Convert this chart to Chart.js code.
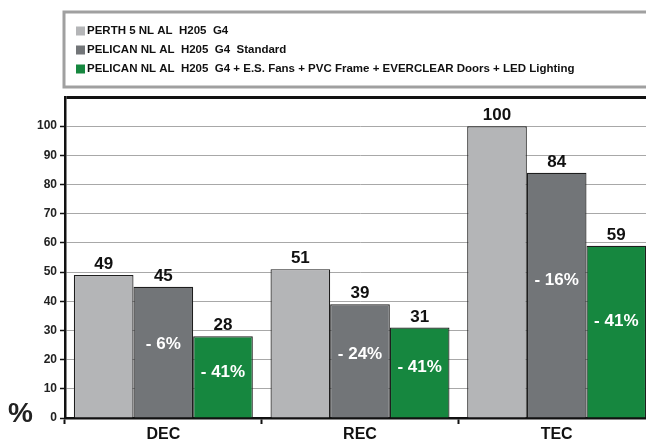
<!DOCTYPE html>
<html>
<head>
<meta charset="utf-8">
<script src="https://cdn.jsdelivr.net/npm/chart.js@4/dist/chart.umd.min.js"></script>
<style>
    html, body { margin: 0; padding: 0; background: #ffffff; overflow: hidden; }
    #wrap { width: 660px; height: 441px; position: relative; }
</style>
</head>
<body>
<div id="wrap"><canvas id="energyChart"></canvas></div>
<script>
// Data
const categories = ['DEC', 'REC', 'TEC'];
const seriesNames = [
    'PERTH 5 NL AL  H205  G4',
    'PELICAN NL AL  H205  G4  Standard',
    'PELICAN NL AL  H205  G4 + E.S. Fans + PVC Frame + EVERCLEAR Doors + LED Lighting'
];
const perthValues = [49, 51, 100];
const pelicanStdValues = [45, 39, 84];
const pelicanPlusValues = [28, 31, 59];
const stdChangeLabels = ['- 6%', '- 24%', '- 16%'];
const plusChangeLabels = ['- 41%', '- 41%', '- 41%'];
const yMax = 110;
const yStep = 10;
const yUnit = '%';

const colors = ['#b4b5b7', '#727578', '#16873f'];
const FONT = "'Liberation Sans', Arial, sans-serif";

// Value labels above bars + change labels inside bars
const barLabels = {
    id: 'barLabels',
    afterDatasetsDraw(chart) {
        const ctx = chart.ctx;
        const yScale = chart.scales.y;
        const changes = [null, stdChangeLabels, plusChangeLabels];
        ctx.save();
        ctx.textAlign = 'center';
        ctx.font = 'bold 17px ' + FONT;
        chart.data.datasets.forEach((ds, i) => {
            chart.getDatasetMeta(i).data.forEach((bar, j) => {
                ctx.fillStyle = '#111111';
                ctx.textBaseline = 'alphabetic';
                ctx.fillText(String(ds.data[j]), bar.x, bar.y - 6);
                if (changes[i]) {
                    ctx.fillStyle = '#ffffff';
                    ctx.textBaseline = 'middle';
                    ctx.fillText(changes[i][j], bar.x, yScale.getPixelForValue(ds.data[j] * 0.56));
                }
            });
        });
        ctx.restore();
    }
};

// Boxed legend stacked in rows + big unit sign
const boxLegend = {
    id: 'boxLegend',
    afterDraw(chart) {
        const ctx = chart.ctx;
        ctx.save();
        ctx.strokeStyle = '#a0a0a0';
        ctx.lineWidth = 3;
        ctx.strokeRect(64, 12, 620, 75);
        ctx.font = 'bold 11.5px ' + FONT;
        ctx.textBaseline = 'middle';
        ctx.textAlign = 'left';
        chart.data.datasets.forEach((ds, i) => {
            const cy = 31 + i * 19;
            ctx.fillStyle = ds.backgroundColor;
            ctx.fillRect(76, cy - 4.5, 9, 9);
            ctx.fillStyle = '#111111';
            ctx.fillText(ds.label, 87, cy);
        });
        ctx.font = 'bold 28px ' + FONT;
        ctx.textBaseline = 'alphabetic';
        ctx.fillStyle = '#222222';
        ctx.fillText(yUnit, 8, 422);
        ctx.restore();
    }
};

const ctx = document.getElementById('energyChart').getContext('2d');
new Chart(ctx, {
    type: 'bar',
    data: {
        labels: categories,
        datasets: [
            { label: seriesNames[0], data: perthValues, backgroundColor: colors[0] },
            { label: seriesNames[1], data: pelicanStdValues, backgroundColor: colors[1] },
            { label: seriesNames[2], data: pelicanPlusValues, backgroundColor: colors[2] }
        ].map(ds => Object.assign(ds, {
            borderColor: '#1e1e1e',
            borderWidth: 1.2,
            borderSkipped: 'bottom',
            categoryPercentage: 0.91,
            barPercentage: 1.0
        }))
    },
    options: {
        responsive: true,
        maintainAspectRatio: false,
        animation: false,
        layout: {
            padding: { top: 97, right: 5, bottom: 0, left: 0 }
        },
        plugins: {
            legend: { display: false },
            tooltip: { enabled: false }
        },
        scales: {
            x: {
                afterFit: function(scale) { scale.height = 23; },
                grid: {
                    offset: true,
                    drawOnChartArea: false,
                    tickLength: 6,
                    tickColor: '#111111',
                    tickWidth: 2
                },
                border: { color: '#111111', width: 2.5 },
                ticks: {
                    color: '#111111',
                    padding: 1,
                    font: { size: 16, weight: 'bold', family: FONT }
                }
            },
            y: {
                min: 0,
                max: yMax,
                afterFit: function(scale) { scale.width = 65; },
                grid: {
                    color: function(c) { return c.tick.value === yMax ? '#111111' : '#a8a8a8'; },
                    lineWidth: function(c) { return c.tick.value === yMax ? 3 : 1; },
                    tickColor: function(c) { return c.tick.value === yMax ? 'rgba(0,0,0,0)' : '#111111'; },
                    tickLength: 5,
                    tickWidth: 1.5
                },
                border: { color: '#111111', width: 2.5 },
                ticks: {
                    stepSize: yStep,
                    padding: 3,
                    color: '#222222',
                    font: { size: 12, weight: 'bold', family: FONT },
                    callback: function(value) { return value === yMax ? '' : value; }
                }
            }
        }
    },
    plugins: [barLabels, boxLegend]
});
</script>
</body>
</html>
